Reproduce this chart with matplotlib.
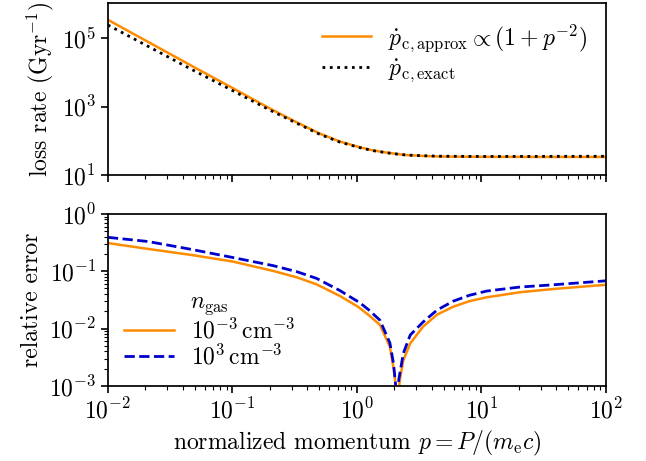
import numpy as np
import matplotlib
matplotlib.use("Agg")
import matplotlib.pyplot as plt
from matplotlib.ticker import FixedLocator, NullLocator, LogLocator

plt.rcParams["font.family"] = ["cmr10", "DejaVu Serif"]
plt.rcParams["mathtext.fontset"] = "cm"
plt.rcParams["axes.formatter.use_mathtext"] = True
plt.rcParams["font.size"] = 17
plt.rcParams["axes.linewidth"] = 1.25

# loss rate (Gyr^-1)
p_rate = [0.01, 0.02, 0.05, 0.1, 0.2, 0.3, 0.5, 0.73, 1.04, 1.34, 1.7, 2.1,
          2.5, 3.4, 4.6, 7, 10.3, 29, 100]
rate_approx = [3.4e5, 8.5e4, 1.37e4, 3.5e3, 880, 410, 165, 96, 66, 53, 46, 41.5,
               38.5, 36.5, 35, 34.6, 34.3, 34, 34]
rate_exact = [2.4e5, 6.3e4, 1.08e4, 2.95e3, 790, 385, 157, 92, 64.5, 52, 45.5, 41.2,
              38.6, 36.9, 35.8, 35.4, 35.2, 35.3, 35.6]

# relative error
p_err_lo = [0.01, 0.021, 0.047, 0.1, 0.213, 0.33, 0.474, 0.73, 1.02, 1.25, 1.53,
            1.84, 1.98, 2.05, 2.12, 2.2, 2.36, 2.68, 3.4, 4.4, 5.93, 8, 10.97,
            20.4, 37.9, 100]
err_lo = [0.31, 0.245, 0.192, 0.148, 0.101, 0.078, 0.059, 0.037, 0.024, 0.017,
          0.0116, 0.0048, 0.0019, 0.001, 0.0002, 0.0012, 0.0028, 0.0055, 0.0108,
          0.0175, 0.024, 0.030, 0.035, 0.043, 0.049, 0.058]
p_err_hi = [0.01, 0.021, 0.047, 0.1, 0.213, 0.33, 0.474, 0.73, 1.06, 1.25, 1.53,
            1.84, 1.97, 2.04, 2.1, 2.17, 2.36, 2.68, 3.4, 4.4, 5.93, 8, 10.97,
            20.4, 37.9, 100]
err_hi = [0.39, 0.33, 0.24, 0.174, 0.125, 0.098, 0.075, 0.046, 0.028, 0.021,
          0.014, 0.0056, 0.0024, 0.0011, 0.0002, 0.0013, 0.0037, 0.0077, 0.013,
          0.021, 0.030, 0.038, 0.045, 0.053, 0.058, 0.068]

fig = plt.figure(figsize=(6.46, 4.61), dpi=100)
ax1 = fig.add_axes([0.167, 0.620, 0.771, 0.3735])
ax2 = fig.add_axes([0.167, 0.163, 0.771, 0.373], sharex=ax1)

# top panel
ax1.loglog(p_rate, rate_approx, color="darkorange", lw=1.8,
           label=r"$\dot{p}_\mathrm{c,approx} \propto (1+p^{-2})$")
ax1.loglog(p_rate, rate_exact, color="black", lw=2, ls=":",
           label=r"$\dot{p}_\mathrm{c,exact}$")
ax1.set_ylim(10, 1.05e6)
ax1.yaxis.set_major_locator(FixedLocator([1e1, 1e3, 1e5]))
ax1.yaxis.set_minor_locator(NullLocator())
ax1.set_ylabel(r"loss rate $(\mathrm{Gyr}^{-1})$")
ax1.legend(loc="upper right", frameon=False, handlelength=2.1,
           handletextpad=0.7, borderaxespad=0.4, labelspacing=0.15)
ax1.tick_params(labelbottom=False)

# bottom panel
ax2.loglog(p_err_lo, err_lo, color="darkorange", lw=1.8,
           label=r"$10^{-3}\,\mathrm{cm}^{-3}$")
ax2.loglog(p_err_hi, err_hi, color="mediumblue", lw=2, ls="--",
           label=r"$10^{3}\,\mathrm{cm}^{-3}$")
ax2.set_ylim(1e-3, 1)
ax2.set_xlim(1e-2, 1e2)
ax2.set_ylabel("relative error")
ax2.set_xlabel(r"normalized momentum $p = P/(m_\mathrm{e}c)$")
ax2.legend(loc="lower left", frameon=False, title=r"$n_\mathrm{gas}$",
           handlelength=2.1, handletextpad=0.7, labelspacing=0.05,
           borderaxespad=0.3)

for ax in (ax1, ax2):
    ax.tick_params(which="major", direction="out", length=5, width=1.2)
    ax.tick_params(which="minor", direction="out", length=3, width=0.8)
    ax.xaxis.set_major_locator(LogLocator(base=10, numticks=10))
    ax.xaxis.set_minor_locator(LogLocator(base=10, subs=np.arange(2, 10), numticks=10))

fig.align_ylabels([ax1, ax2])
fig.savefig("out.png", dpi=100)
